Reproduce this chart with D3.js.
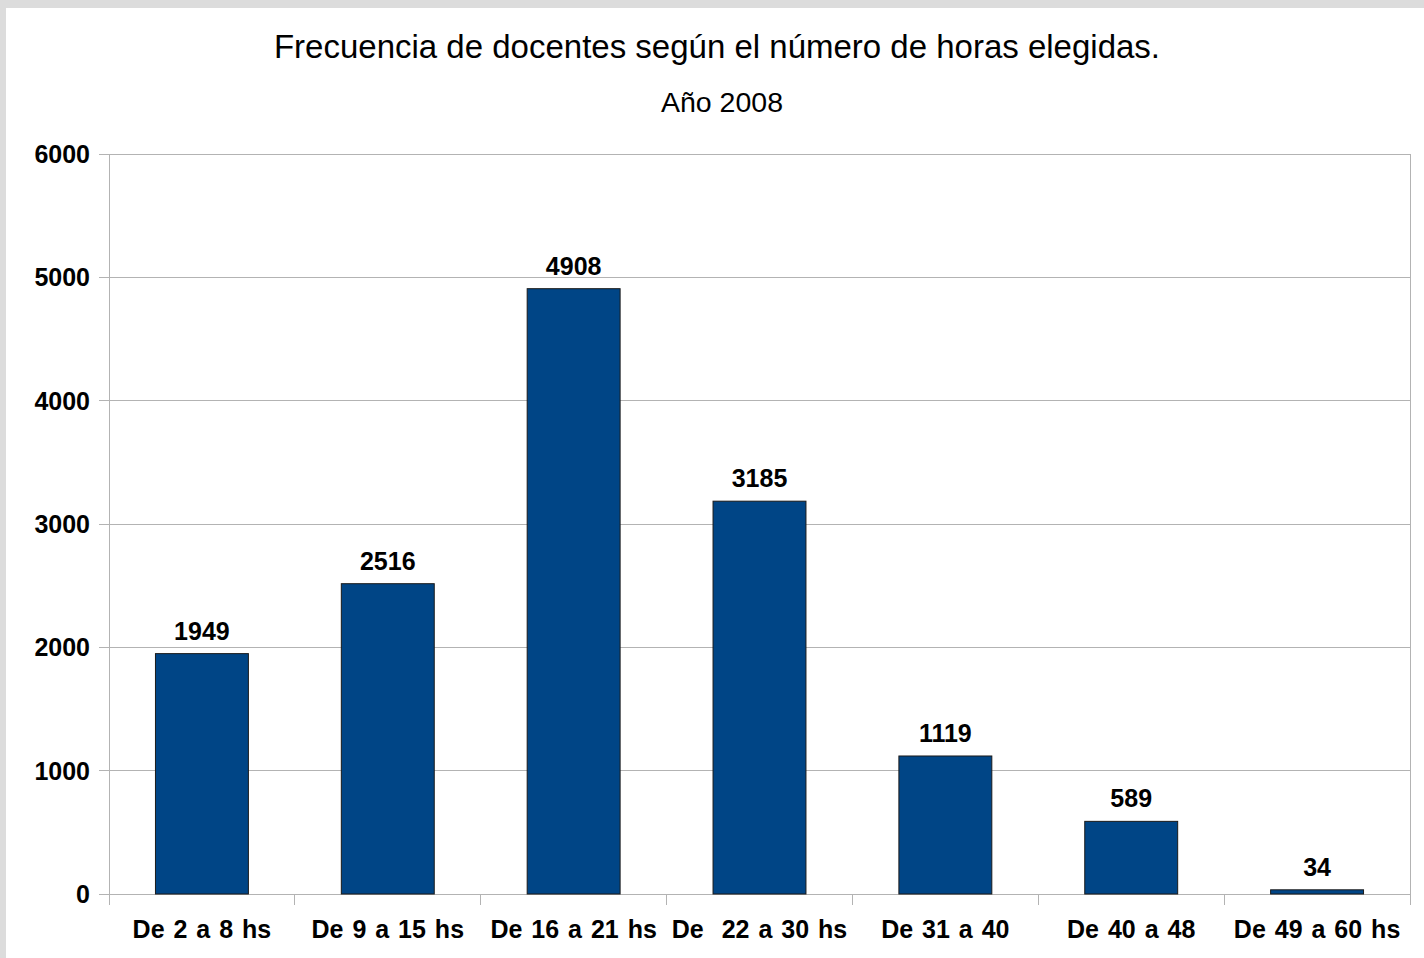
<!DOCTYPE html>
<html>
<head>
<meta charset="utf-8">
<script src="https://cdn.jsdelivr.net/npm/d3@7"></script>
<style>
  body { margin: 0; background: #fff; }
  text { font-family: "Liberation Sans", Arial, sans-serif; }
</style>
</head>
<body>
<div id="chart"></div>
<script>
const categories = ["De 2 a 8 hs", "De 9 a 15 hs", "De 16 a 21 hs", "De  22 a 30 hs", "De 31 a 40", "De 40 a 48", "De 49 a 60 hs"]
const values = [1949, 2516, 4908, 3185, 1119, 589, 34]
const yTicks = [0, 1000, 2000, 3000, 4000, 5000, 6000]
const title = "Frecuencia de docentes según el número de horas elegidas."
const subtitle = "Año 2008"

const width = 1424
const height = 958
const margin = { top: 154, right: 14, bottom: 64, left: 109 }

const svg = d3.select('#chart').append('svg').attr('width', width).attr('height', height)

// gray frame at top and left
svg.append('rect').attr('width', width).attr('height', height).attr('fill', '#dcdcdc')
svg.append('rect').attr('x', 6).attr('y', 8).attr('width', width - 6).attr('height', height - 8).attr('fill', '#fff')

const xScale = d3.scaleBand().domain(categories)
    .range([margin.left, width - margin.right]).paddingInner(0.5).paddingOuter(0.25)
const yScale = d3.scaleLinear().domain([0, 6000]).range([height - margin.bottom, margin.top])

// grid
svg.append('g').selectAll('line').data(yTicks).enter().append('line')
    .attr('x1', margin.left - 10).attr('x2', width - margin.right)
    .attr('y1', d => yScale(d)).attr('y2', d => yScale(d))
    .attr('stroke', '#b3b3b3').attr('stroke-width', 1).attr('shape-rendering', 'crispEdges')

// left and right frame
svg.append('line').attr('x1', margin.left).attr('x2', margin.left)
    .attr('y1', margin.top).attr('y2', height - margin.bottom + 11)
    .attr('stroke', '#b3b3b3').attr('shape-rendering', 'crispEdges')
svg.append('line').attr('x1', width - margin.right).attr('x2', width - margin.right)
    .attr('y1', margin.top).attr('y2', height - margin.bottom + 11)
    .attr('stroke', '#b3b3b3').attr('shape-rendering', 'crispEdges')

// category boundary ticks
const step = xScale.step()
svg.append('g').selectAll('line').data(categories.slice(1)).enter().append('line')
    .attr('x1', d => xScale(d) - step * 0.25).attr('x2', d => xScale(d) - step * 0.25)
    .attr('y1', height - margin.bottom).attr('y2', height - margin.bottom + 11)
    .attr('stroke', '#b3b3b3').attr('shape-rendering', 'crispEdges')

// y labels
svg.append('g').selectAll('text').data(yTicks).enter().append('text')
    .attr('x', 90).attr('y', d => yScale(d)).attr('dy', '0.36em')
    .attr('text-anchor', 'end').attr('font-size', '25px').attr('font-weight', 'bold')
    .text(d => d)

// bars
svg.append('g').selectAll('rect').data(values).enter().append('rect')
    .attr('x', (d, i) => xScale(categories[i]))
    .attr('width', xScale.bandwidth())
    .attr('y', d => yScale(d))
    .attr('height', d => yScale(0) - yScale(d))
    .attr('fill', '#004586').attr('stroke', '#1a1a1a').attr('stroke-width', 1)

// value labels
svg.append('g').selectAll('text').data(values).enter().append('text')
    .attr('x', (d, i) => xScale(categories[i]) + xScale.bandwidth() / 2)
    .attr('y', d => yScale(d) - 14)
    .attr('text-anchor', 'middle').attr('font-size', '25px').attr('font-weight', 'bold')
    .text(d => d)

// category labels
svg.append('g').selectAll('text').data(categories).enter().append('text')
    .attr('x', d => xScale(d) + xScale.bandwidth() / 2)
    .attr('y', 938)
    .attr('text-anchor', 'middle').attr('font-size', '25px').attr('font-weight', 'bold')
    .attr('word-spacing', '2px')
    .style('white-space', 'pre')
    .text(d => d)

svg.append('text').attr('x', 717).attr('y', 58)
    .attr('text-anchor', 'middle').attr('font-size', '33px')
    .text(title)
svg.append('text').attr('x', 722).attr('y', 112)
    .attr('text-anchor', 'middle').attr('font-size', '28.5px')
    .text(subtitle)
</script>
</body>
</html>
